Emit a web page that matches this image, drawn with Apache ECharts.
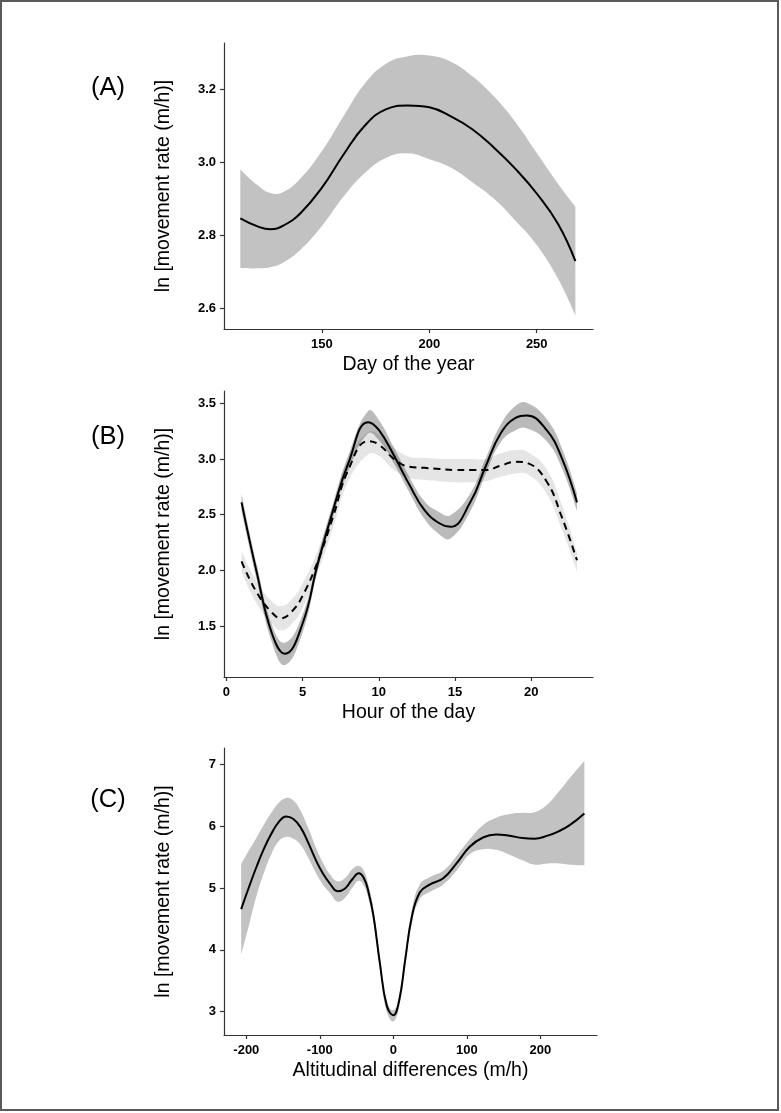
<!DOCTYPE html>
<html>
<head>
<meta charset="utf-8">
<script src="https://cdn.jsdelivr.net/npm/echarts@6/dist/echarts.min.js"></script>
<style>
html,body{margin:0;padding:0;background:#fff;}
#chart{width:781px;height:1113px;}
</style>
</head>
<body>
<div id="chart"></div>
<script>
// ---------- Panel A: Day of the year ----------
const dayA = [112,120,126,132,140,150,160,170,180,190,200,210,220,230,240,250,260,268];
const fitA = [2.846,2.824,2.816,2.826,2.86,2.93,3.02,3.10,3.145,3.155,3.15,3.125,3.09,3.04,2.982,2.914,2.83,2.729];
const hiA  = [2.98,2.937,2.915,2.918,2.955,3.03,3.125,3.215,3.27,3.29,3.292,3.275,3.235,3.18,3.11,3.025,2.94,2.878];
const loA  = [2.71,2.709,2.712,2.725,2.76,2.825,2.905,2.97,3.012,3.024,3.008,2.985,2.945,2.9,2.84,2.773,2.68,2.58];

// ---------- Panel B: Hour of the day ----------
const hourSolid = [1,2,3,3.85,5,6,7,8,9.3,10,11,12,13,14,14.7,16,17,18,19,19.7,21,22,23];
const fitSolid  = [2.61,1.98,1.43,1.25,1.52,2.06,2.54,2.96,3.33,3.26,3.03,2.77,2.54,2.42,2.39,2.61,2.93,3.23,3.37,3.39,3.26,3.01,2.61];
const loSolid   = [2.53,1.91,1.35,1.15,1.44,2.00,2.48,2.89,3.23,3.17,2.96,2.70,2.46,2.32,2.285,2.53,2.86,3.15,3.26,3.275,3.16,2.92,2.53];
const hiSolid   = [2.69,2.05,1.51,1.35,1.60,2.12,2.60,3.03,3.43,3.35,3.10,2.84,2.62,2.52,2.495,2.69,3.00,3.31,3.48,3.505,3.36,3.10,2.69];

const hourDash = [1,2,3,3.6,4.3,5,6,7,8,9.3,10,11,12,13,14,15,16,17,18,19,19.8,21,22,23];
const fitDash  = [2.08,1.80,1.62,1.57,1.63,1.77,2.08,2.48,2.90,3.16,3.13,3.0,2.93,2.92,2.91,2.90,2.90,2.90,2.94,2.975,2.96,2.80,2.48,2.09];
const loDash   = [1.99,1.70,1.52,1.46,1.52,1.66,1.98,2.38,2.80,3.04,3.03,2.90,2.83,2.81,2.80,2.79,2.79,2.80,2.84,2.87,2.86,2.69,2.37,1.99];
const hiDash   = [2.17,1.90,1.72,1.68,1.74,1.88,2.18,2.58,3.00,3.24,3.22,3.10,3.02,3.01,3.00,3.00,3.00,3.00,3.05,3.08,3.06,2.91,2.59,2.16];

// ---------- Panel C: Altitudinal differences ----------
const altC = [-207,-196,-186,-176,-166,-156,-146,-136,-126,-116,-106,-96,-86,-76,-66,-56,-47,-40,-34,-27,-18,-9,0,8,16,25,36,50,68,86,104,122,140,158,176,192,210,225,240,260];
const fitC = [4.66,5.03,5.35,5.64,5.88,6.07,6.16,6.12,5.98,5.74,5.47,5.24,5.07,4.95,4.99,5.14,5.24,5.16,4.95,4.55,3.76,3.10,2.94,3.18,3.82,4.52,4.93,5.06,5.16,5.40,5.67,5.82,5.87,5.85,5.81,5.80,5.85,5.92,6.02,6.21];
const hiC  = [5.39,5.62,5.82,6.03,6.22,6.38,6.46,6.42,6.25,5.98,5.68,5.42,5.22,5.11,5.16,5.30,5.36,5.28,5.06,4.66,3.86,3.18,3.02,3.26,3.92,4.63,5.06,5.18,5.28,5.52,5.79,6.02,6.14,6.20,6.22,6.23,6.36,6.56,6.78,7.06];
const loC  = [3.92,4.42,4.88,5.25,5.55,5.76,5.83,5.80,5.70,5.50,5.26,5.06,4.92,4.78,4.84,5.00,5.12,5.04,4.84,4.44,3.66,3.00,2.84,3.08,3.72,4.42,4.82,4.94,5.06,5.28,5.55,5.63,5.62,5.54,5.45,5.38,5.40,5.40,5.38,5.37];

// ---------- Ticks ----------
const xTicksA = [150,200,250];
const yTicksA = [2.6,2.8,3.0,3.2];
const xTicksB = [0,5,10,15,20];
const yTicksB = [1.5,2.0,2.5,3.0,3.5];
const xTicksC = [-200,-100,0,100,200];
const yTicksC = [3,4,5,6,7];

const panelLabels = ['(A)','(B)','(C)'];
const xTitles = ['Day of the year','Hour of the day','Altitudinal differences (m/h)'];
const yTitle = 'ln [movement rate (m/h)]';

const FONT = "'Liberation Sans', Arial, sans-serif";
const SMOOTH = 0.45;
const pairs = (xs, ys) => xs.map((x, i) => [x, ys[i]]);

// Smooth bezier path segments through pixel points (same idea as ECharts line smoothing)
function controlPoints(pts, s) {
  const n = pts.length, cps = [];
  for (let i = 0; i < n; i++) {
    if (i === 0 || i === n - 1) { cps.push([pts[i], pts[i]]); continue; }
    const p = pts[i], a = pts[i - 1], b = pts[i + 1];
    const vx = b[0] - a[0], vy = b[1] - a[1];
    const d1 = Math.hypot(p[0] - a[0], p[1] - a[1]);
    const d2 = Math.hypot(b[0] - p[0], b[1] - p[1]);
    const sum = d1 + d2 || 1;
    cps.push([
      [p[0] - vx * s * d1 / sum, p[1] - vy * s * d1 / sum],
      [p[0] + vx * s * d2 / sum, p[1] + vy * s * d2 / sum]
    ]);
  }
  return cps;
}
function curvePath(pts, s, first) {
  const cps = controlPoints(pts, s);
  let d = (first ? 'M' : 'L') + pts[0][0].toFixed(2) + ' ' + pts[0][1].toFixed(2);
  for (let i = 0; i < pts.length - 1; i++) {
    const c1 = cps[i][1], c2 = cps[i + 1][0], p = pts[i + 1];
    d += ' C' + c1[0].toFixed(2) + ' ' + c1[1].toFixed(2) + ' ' + c2[0].toFixed(2) + ' ' + c2[1].toFixed(2) + ' ' + p[0].toFixed(2) + ' ' + p[1].toFixed(2);
  }
  return d;
}

function bandSeries(gi, xs, lo, hi, color) {
  return {
    type:'custom', coordinateSystem:'cartesian2d', xAxisIndex:gi, yAxisIndex:gi,
    silent:true, z:1,
    data: xs.map((x, i) => [x, lo[i], hi[i]]),
    encode:{x:0, y:[1, 2]},
    renderItem: function (params, api) {
      if (params.dataIndex !== 0) return null;
      const up = xs.map((x, i) => api.coord([x, hi[i]]));
      const dn = xs.map((x, i) => api.coord([x, lo[i]])).reverse();
      const d = curvePath(up, SMOOTH, true) + ' ' + curvePath(dn, SMOOTH, false) + ' Z';
      return { type:'path', shape:{pathData:d}, style:{fill:color, stroke:null} };
    }
  };
}
function fitSeries(gi, xs, ys, dashed) {
  return { type:'line', xAxisIndex:gi, yAxisIndex:gi, data:pairs(xs, ys),
    smooth:SMOOTH, symbol:'none', silent:true, z:3,
    lineStyle:{color:'#000', width:2, type: dashed ? [7,5] : 'solid'} };
}

const axisLineStyle = {color:'#333', width:1.2};
function xAxisCfg(gi, min, max, ticks, name) {
  return { type:'value', gridIndex:gi, min:min, max:max,
    axisLine:{show:true, onZero:false, lineStyle:axisLineStyle},
    axisTick:{show:true, length:4, customValues:ticks, lineStyle:axisLineStyle},
    axisLabel:{customValues:ticks, color:'#000', fontWeight:'bold', fontSize:13, fontFamily:FONT, margin:9},
    splitLine:{show:false},
    name:name, nameLocation:'middle', nameGap:26,
    nameTextStyle:{fontSize:19.5, color:'#000', fontFamily:FONT} };
}
function yAxisCfg(gi, min, max, ticks, dec) {
  return { type:'value', gridIndex:gi, min:min, max:max,
    axisLine:{show:true, onZero:false, lineStyle:axisLineStyle},
    axisTick:{show:true, length:4, customValues:ticks, lineStyle:axisLineStyle},
    axisLabel:{customValues:ticks, color:'#000', fontWeight:'bold', fontSize:13, fontFamily:FONT, margin:8,
      formatter: v => v.toFixed(dec)},
    splitLine:{show:false},
    name:yTitle, nameLocation:'middle', nameGap:50,
    nameTextStyle:{fontSize:19.5, color:'#000', fontFamily:FONT} };
}

const chart = echarts.init(document.getElementById('chart'), null, {renderer:'canvas'});
const labelFont = "25.5px 'Liberation Sans', Arial";
const option = {
  backgroundColor:'#fff',
  animation:false,
  grid:[
    {left:224, top:43, width:369, height:286},
    {left:224, top:391, width:369, height:286},
    {left:224, top:748, width:373, height:287}
  ],
  xAxis:[
    xAxisCfg(0, 104.4, 276.2, xTicksA, xTitles[0]),
    xAxisCfg(1, -0.15, 24.05, xTicksB, xTitles[1]),
    xAxisCfg(2, -230.4, 277.2, xTicksC, xTitles[2])
  ],
  yAxis:[
    yAxisCfg(0, 2.543, 3.326, yTicksA, 1),
    yAxisCfg(1, 1.042, 3.61, yTicksB, 1),
    yAxisCfg(2, 2.62, 7.27, yTicksC, 0)
  ],
  graphic:[
    {type:'rect', shape:{x:1, y:1, width:777, height:1109}, style:{fill:null, stroke:'#5a5a5a', lineWidth:2}, silent:true},
    {type:'text', x:108, y:88, style:{text:panelLabels[0], font:labelFont, fill:'#000', align:'center', verticalAlign:'middle'}},
    {type:'text', x:108, y:437, style:{text:panelLabels[1], font:labelFont, fill:'#000', align:'center', verticalAlign:'middle'}},
    {type:'text', x:108, y:800, style:{text:panelLabels[2], font:labelFont, fill:'#000', align:'center', verticalAlign:'middle'}}
  ],
  series:[
    bandSeries(0, dayA, loA, hiA, '#c2c2c2'),
    fitSeries(0, dayA, fitA, false),
    bandSeries(1, hourDash, loDash, hiDash, 'rgba(0,0,0,0.10)'),
    bandSeries(1, hourSolid, loSolid, hiSolid, 'rgba(0,0,0,0.27)'),
    fitSeries(1, hourDash, fitDash, true),
    fitSeries(1, hourSolid, fitSolid, false),
    bandSeries(2, altC, loC, hiC, '#c2c2c2'),
    fitSeries(2, altC, fitC, false)
  ]
};
chart.setOption(option);
</script>
</body>
</html>
